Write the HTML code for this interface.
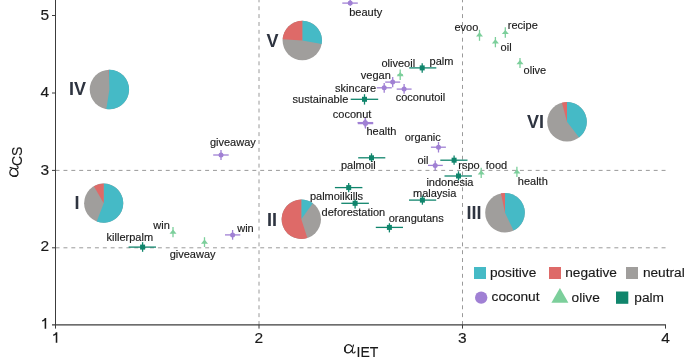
<!DOCTYPE html>
<html><head><meta charset="utf-8"><style>
html,body{margin:0;padding:0;background:#fff;width:685px;height:364px;overflow:hidden;font-family:"Liberation Sans",sans-serif;}
svg{display:block;will-change:transform;}
</style></head><body>
<svg width="685" height="364" viewBox="0 0 685 364">
<line x1="55.6" y1="170.40" x2="666" y2="170.40" stroke="#9a9a9a" stroke-width="1" stroke-dasharray="3.95 3.92"/>
<line x1="55.6" y1="247.80" x2="666" y2="247.80" stroke="#9a9a9a" stroke-width="1" stroke-dasharray="3.95 3.92"/>
<line x1="259.00" y1="325" x2="259.00" y2="0" stroke="#9a9a9a" stroke-width="1" stroke-dasharray="3.95 3.92"/>
<line x1="462.50" y1="325" x2="462.50" y2="0" stroke="#9a9a9a" stroke-width="1" stroke-dasharray="3.95 3.92"/>
<circle cx="109.4" cy="89.5" r="19.7" fill="#a09e9c"/><path d="M109.4,89.5 L108.58,69.82 A19.7,19.7 0 0 1 108.92,69.81 Z" fill="#de6a68"/><path d="M109.4,89.5 L108.92,69.81 A19.7,19.7 0 1 1 106.32,108.96 Z" fill="#45bac6"/>
<circle cx="302.3" cy="40.5" r="19.7" fill="#a09e9c"/><path d="M302.3,40.5 L302.30,20.80 A19.7,19.7 0 0 1 321.66,44.12 Z" fill="#45bac6"/><path d="M302.3,40.5 L282.63,39.33 A19.7,19.7 0 0 1 302.30,20.80 Z" fill="#de6a68"/>
<circle cx="103.7" cy="203.2" r="19.6" fill="#a09e9c"/><path d="M103.7,203.2 L103.70,183.60 A19.6,19.6 0 1 1 96.71,221.51 Z" fill="#45bac6"/><path d="M103.7,203.2 L93.87,186.24 A19.6,19.6 0 0 1 103.70,183.60 Z" fill="#de6a68"/>
<circle cx="301.3" cy="219.3" r="19.7" fill="#a09e9c"/><path d="M301.3,219.3 L301.30,199.60 A19.7,19.7 0 0 1 312.77,203.28 Z" fill="#45bac6"/><path d="M301.3,219.3 L307.35,238.05 A19.7,19.7 0 1 1 301.30,199.60 Z" fill="#de6a68"/>
<circle cx="505" cy="212.7" r="19.8" fill="#a09e9c"/><path d="M505,212.7 L505.00,192.90 A19.8,19.8 0 0 1 513.52,230.57 Z" fill="#45bac6"/><path d="M505,212.7 L500.88,193.33 A19.8,19.8 0 0 1 505.00,192.90 Z" fill="#de6a68"/>
<circle cx="567" cy="121.8" r="19.8" fill="#a09e9c"/><path d="M567,121.8 L567.00,102.00 A19.8,19.8 0 0 1 579.08,137.49 Z" fill="#45bac6"/><path d="M567,121.8 L561.88,102.67 A19.8,19.8 0 0 1 567.00,102.00 Z" fill="#de6a68"/>
<text x="69" y="95" font-family="Liberation Sans" font-weight="bold" font-size="18" fill="#2e3440">IV</text>
<text x="266.5" y="46.6" font-family="Liberation Sans" font-weight="bold" font-size="18" fill="#2e3440">V</text>
<text x="74.5" y="208.7" font-family="Liberation Sans" font-weight="bold" font-size="18" fill="#2e3440">I</text>
<text x="267" y="225.5" font-family="Liberation Sans" font-weight="bold" font-size="18" fill="#2e3440">II</text>
<text x="466.5" y="218.8" font-family="Liberation Sans" font-weight="bold" font-size="18" fill="#2e3440">III</text>
<text x="527.0" y="127.6" font-family="Liberation Sans" font-weight="bold" font-size="18" fill="#2e3440">VI</text>
<line x1="342.3" y1="3.1" x2="357.8" y2="3.1" stroke="#a080d4" stroke-width="1.3"/><line x1="350.2" y1="-2" x2="350.2" y2="5.8" stroke="#a080d4" stroke-width="1.3"/><circle cx="350.2" cy="3.1" r="2.5" fill="#a080d4"/>
<line x1="385.2" y1="82.1" x2="400.2" y2="82.1" stroke="#a080d4" stroke-width="1.3"/><line x1="392.7" y1="77" x2="392.7" y2="87.3" stroke="#a080d4" stroke-width="1.3"/><circle cx="392.7" cy="82.1" r="2.5" fill="#a080d4"/>
<line x1="376.8" y1="87.8" x2="391.8" y2="87.8" stroke="#a080d4" stroke-width="1.3"/><line x1="384.2" y1="83.1" x2="384.2" y2="92.8" stroke="#a080d4" stroke-width="1.3"/><circle cx="384.2" cy="87.8" r="2.5" fill="#a080d4"/>
<line x1="396.7" y1="89.1" x2="411.6" y2="89.1" stroke="#a080d4" stroke-width="1.3"/><line x1="404.1" y1="84" x2="404.1" y2="93.8" stroke="#a080d4" stroke-width="1.3"/><circle cx="404.1" cy="89.1" r="2.5" fill="#a080d4"/>
<line x1="357.5" y1="122.6" x2="373.2" y2="122.6" stroke="#a080d4" stroke-width="1.3"/><line x1="365.2" y1="118" x2="365.2" y2="127.4" stroke="#a080d4" stroke-width="1.3"/><circle cx="365.2" cy="122.6" r="2.5" fill="#a080d4"/>
<line x1="357.8" y1="123.6" x2="373.2" y2="123.6" stroke="#a080d4" stroke-width="1.3"/><line x1="365.5" y1="118.5" x2="365.5" y2="128.6" stroke="#a080d4" stroke-width="1.3"/><circle cx="365.5" cy="123.6" r="2.5" fill="#a080d4"/>
<line x1="430.9" y1="147.2" x2="445.9" y2="147.2" stroke="#a080d4" stroke-width="1.3"/><line x1="438.5" y1="142" x2="438.5" y2="152.5" stroke="#a080d4" stroke-width="1.3"/><circle cx="438.5" cy="147.2" r="2.5" fill="#a080d4"/>
<line x1="428" y1="165.4" x2="442.8" y2="165.4" stroke="#a080d4" stroke-width="1.3"/><line x1="435.2" y1="160.5" x2="435.2" y2="170.4" stroke="#a080d4" stroke-width="1.3"/><circle cx="435.2" cy="165.4" r="2.5" fill="#a080d4"/>
<line x1="213.2" y1="155" x2="228.7" y2="155" stroke="#a080d4" stroke-width="1.3"/><line x1="221" y1="149.9" x2="221" y2="160.1" stroke="#a080d4" stroke-width="1.3"/><circle cx="221" cy="155" r="2.5" fill="#a080d4"/>
<line x1="225" y1="234.9" x2="240.3" y2="234.9" stroke="#a080d4" stroke-width="1.3"/><line x1="232.6" y1="230" x2="232.6" y2="239.7" stroke="#a080d4" stroke-width="1.3"/><circle cx="232.6" cy="234.9" r="2.5" fill="#a080d4"/>
<line x1="479.5" y1="29.8" x2="479.5" y2="40.8" stroke="#7ccf9b" stroke-width="1.3"/><path d="M479.5,32.3 L483.0,36.5 L476.0,36.5 Z" fill="#7ccf9b"/>
<line x1="505.3" y1="27.3" x2="505.3" y2="37.7" stroke="#7ccf9b" stroke-width="1.3"/><path d="M505.3,29.900000000000002 L508.8,34.1 L501.8,34.1 Z" fill="#7ccf9b"/>
<line x1="495.4" y1="37" x2="495.4" y2="47.3" stroke="#7ccf9b" stroke-width="1.3"/><path d="M495.4,39.3 L498.9,43.5 L491.9,43.5 Z" fill="#7ccf9b"/>
<line x1="520" y1="58" x2="520" y2="68" stroke="#7ccf9b" stroke-width="1.3"/><path d="M520,60.0 L523.5,64.2 L516.5,64.2 Z" fill="#7ccf9b"/>
<line x1="397.5" y1="74.8" x2="403" y2="74.8" stroke="#7ccf9b" stroke-width="1.3"/><line x1="400.2" y1="69.4" x2="400.2" y2="80.0" stroke="#7ccf9b" stroke-width="1.3"/><path d="M400.2,72.1 L403.7,76.3 L396.7,76.3 Z" fill="#7ccf9b"/>
<line x1="481.2" y1="167.7" x2="481.2" y2="177.9" stroke="#7ccf9b" stroke-width="1.3"/><path d="M481.2,170.3 L484.7,174.5 L477.7,174.5 Z" fill="#7ccf9b"/>
<line x1="516.9" y1="166.8" x2="516.9" y2="177" stroke="#7ccf9b" stroke-width="1.3"/><path d="M516.9,169.3 L520.4,173.5 L513.4,173.5 Z" fill="#7ccf9b"/>
<line x1="173" y1="227" x2="173" y2="237.3" stroke="#7ccf9b" stroke-width="1.3"/><path d="M173,229.60000000000002 L176.5,233.8 L169.5,233.8 Z" fill="#7ccf9b"/>
<line x1="204.5" y1="237.2" x2="204.5" y2="247" stroke="#7ccf9b" stroke-width="1.3"/><path d="M204.5,239.5 L208.0,243.7 L201.0,243.7 Z" fill="#7ccf9b"/>
<line x1="409.2" y1="67.9" x2="436.3" y2="67.9" stroke="#10856c" stroke-width="1.3"/><line x1="422.2" y1="63.3" x2="422.2" y2="72.7" stroke="#10856c" stroke-width="1.3"/><rect x="419.7" y="65.4" width="5" height="5" fill="#10856c"/>
<line x1="350.7" y1="99.3" x2="378.2" y2="99.3" stroke="#10856c" stroke-width="1.3"/><line x1="364.5" y1="94.2" x2="364.5" y2="104.6" stroke="#10856c" stroke-width="1.3"/><rect x="362.0" y="96.8" width="5" height="5" fill="#10856c"/>
<line x1="358.2" y1="157.8" x2="385.3" y2="157.8" stroke="#10856c" stroke-width="1.3"/><line x1="371.5" y1="153.3" x2="371.5" y2="162" stroke="#10856c" stroke-width="1.3"/><rect x="369.0" y="155.3" width="5" height="5" fill="#10856c"/>
<line x1="440.3" y1="160.2" x2="467.5" y2="160.2" stroke="#10856c" stroke-width="1.3"/><line x1="454.1" y1="155.4" x2="454.1" y2="164.7" stroke="#10856c" stroke-width="1.3"/><rect x="451.6" y="157.7" width="5" height="5" fill="#10856c"/>
<line x1="444.5" y1="176" x2="471.9" y2="176" stroke="#10856c" stroke-width="1.3"/><line x1="458.5" y1="171.3" x2="458.5" y2="180.5" stroke="#10856c" stroke-width="1.3"/><rect x="456.0" y="173.5" width="5" height="5" fill="#10856c"/>
<line x1="334.9" y1="187.6" x2="362.4" y2="187.6" stroke="#10856c" stroke-width="1.3"/><line x1="348.7" y1="182.9" x2="348.7" y2="192.3" stroke="#10856c" stroke-width="1.3"/><rect x="346.2" y="185.1" width="5" height="5" fill="#10856c"/>
<line x1="341.3" y1="203.3" x2="368.9" y2="203.3" stroke="#10856c" stroke-width="1.3"/><line x1="355.1" y1="199.3" x2="355.1" y2="208.5" stroke="#10856c" stroke-width="1.3"/><rect x="352.6" y="200.8" width="5" height="5" fill="#10856c"/>
<line x1="409" y1="200.1" x2="436.2" y2="200.1" stroke="#10856c" stroke-width="1.3"/><line x1="422.4" y1="195.7" x2="422.4" y2="204.7" stroke="#10856c" stroke-width="1.3"/><rect x="419.9" y="197.6" width="5" height="5" fill="#10856c"/>
<line x1="375.8" y1="227.4" x2="403" y2="227.4" stroke="#10856c" stroke-width="1.3"/><line x1="389.4" y1="223.2" x2="389.4" y2="232.4" stroke="#10856c" stroke-width="1.3"/><rect x="386.9" y="224.9" width="5" height="5" fill="#10856c"/>
<line x1="128.6" y1="247.1" x2="156" y2="247.1" stroke="#10856c" stroke-width="1.3"/><line x1="142.6" y1="242.2" x2="142.6" y2="251.8" stroke="#10856c" stroke-width="1.3"/><rect x="140.1" y="244.6" width="5" height="5" fill="#10856c"/>
<text x="349.2" y="15.8" font-family="Liberation Sans" font-size="11" fill="#1a1a1a" stroke="#1a1a1a" stroke-width="0.15">beauty</text>
<text x="360.8" y="78.8" font-family="Liberation Sans" font-size="11" fill="#1a1a1a" stroke="#1a1a1a" stroke-width="0.15">vegan</text>
<text x="335.1" y="91.6" font-family="Liberation Sans" font-size="11" fill="#1a1a1a" stroke="#1a1a1a" stroke-width="0.15">skincare</text>
<text x="292.6" y="102.8" font-family="Liberation Sans" font-size="11" fill="#1a1a1a" stroke="#1a1a1a" stroke-width="0.15">sustainable</text>
<text x="381.5" y="66.8" font-family="Liberation Sans" font-size="11" fill="#1a1a1a" stroke="#1a1a1a" stroke-width="0.15">oliveoil</text>
<text x="429.6" y="64.8" font-family="Liberation Sans" font-size="11" fill="#1a1a1a" stroke="#1a1a1a" stroke-width="0.15">palm</text>
<text x="395.7" y="100.6" font-family="Liberation Sans" font-size="11" fill="#1a1a1a" stroke="#1a1a1a" stroke-width="0.15">coconutoil</text>
<text x="332.8" y="118.4" font-family="Liberation Sans" font-size="11" fill="#1a1a1a" stroke="#1a1a1a" stroke-width="0.15">coconut</text>
<text x="366.5" y="135" font-family="Liberation Sans" font-size="11" fill="#1a1a1a" stroke="#1a1a1a" stroke-width="0.15">health</text>
<text x="404.7" y="141" font-family="Liberation Sans" font-size="11" fill="#1a1a1a" stroke="#1a1a1a" stroke-width="0.15">organic</text>
<text x="417.4" y="164.1" font-family="Liberation Sans" font-size="11" fill="#1a1a1a" stroke="#1a1a1a" stroke-width="0.15">oil</text>
<text x="458.3" y="168.9" font-family="Liberation Sans" font-size="11" fill="#1a1a1a" stroke="#1a1a1a" stroke-width="0.15">rspo</text>
<text x="426.4" y="185.5" font-family="Liberation Sans" font-size="11" fill="#1a1a1a" stroke="#1a1a1a" stroke-width="0.15">indonesia</text>
<text x="454.4" y="30.8" font-family="Liberation Sans" font-size="11" fill="#1a1a1a" stroke="#1a1a1a" stroke-width="0.15">evoo</text>
<text x="507.8" y="28.7" font-family="Liberation Sans" font-size="11" fill="#1a1a1a" stroke="#1a1a1a" stroke-width="0.15">recipe</text>
<text x="500.6" y="50.8" font-family="Liberation Sans" font-size="11" fill="#1a1a1a" stroke="#1a1a1a" stroke-width="0.15">oil</text>
<text x="523.6" y="74" font-family="Liberation Sans" font-size="11" fill="#1a1a1a" stroke="#1a1a1a" stroke-width="0.15">olive</text>
<text x="485.8" y="169.0" font-family="Liberation Sans" font-size="11" fill="#1a1a1a" stroke="#1a1a1a" stroke-width="0.15">food</text>
<text x="517.8" y="185.4" font-family="Liberation Sans" font-size="11" fill="#1a1a1a" stroke="#1a1a1a" stroke-width="0.15">health</text>
<text x="209.9" y="145.8" font-family="Liberation Sans" font-size="11" fill="#1a1a1a" stroke="#1a1a1a" stroke-width="0.15">giveaway</text>
<text x="106.6" y="241" font-family="Liberation Sans" font-size="11" fill="#1a1a1a" stroke="#1a1a1a" stroke-width="0.15">killerpalm</text>
<text x="153.3" y="228.8" font-family="Liberation Sans" font-size="11" fill="#1a1a1a" stroke="#1a1a1a" stroke-width="0.15">win</text>
<text x="169.7" y="258.3" font-family="Liberation Sans" font-size="11" fill="#1a1a1a" stroke="#1a1a1a" stroke-width="0.15">giveaway</text>
<text x="237.2" y="232" font-family="Liberation Sans" font-size="11" fill="#1a1a1a" stroke="#1a1a1a" stroke-width="0.15">win</text>
<text x="340.9" y="168.8" font-family="Liberation Sans" font-size="11" fill="#1a1a1a" stroke="#1a1a1a" stroke-width="0.15">palmoil</text>
<text x="309.9" y="199.6" font-family="Liberation Sans" font-size="11" fill="#1a1a1a" stroke="#1a1a1a" stroke-width="0.15">palmoilkills</text>
<text x="321.6" y="216.2" font-family="Liberation Sans" font-size="11" fill="#1a1a1a" stroke="#1a1a1a" stroke-width="0.15">deforestation</text>
<text x="413.0" y="197.4" font-family="Liberation Sans" font-size="11" fill="#1a1a1a" stroke="#1a1a1a" stroke-width="0.15">malaysia</text>
<text x="388.7" y="222.4" font-family="Liberation Sans" font-size="11" fill="#1a1a1a" stroke="#1a1a1a" stroke-width="0.15">orangutans</text>
<line x1="55.5" y1="0" x2="55.5" y2="328.6" stroke="#3c3c3c" stroke-width="1"/>
<line x1="52" y1="324.9" x2="666" y2="324.9" stroke="#3c3c3c" stroke-width="1.15"/>
<line x1="52" y1="15.50" x2="55.5" y2="15.50" stroke="#3c3c3c" stroke-width="1"/>
<line x1="52" y1="93.00" x2="55.5" y2="93.00" stroke="#3c3c3c" stroke-width="1"/>
<line x1="52" y1="170.40" x2="55.5" y2="170.40" stroke="#3c3c3c" stroke-width="1"/>
<line x1="52" y1="247.80" x2="55.5" y2="247.80" stroke="#3c3c3c" stroke-width="1"/>
<line x1="259.00" y1="325" x2="259.00" y2="328.6" stroke="#3c3c3c" stroke-width="1"/>
<line x1="462.50" y1="325" x2="462.50" y2="328.6" stroke="#3c3c3c" stroke-width="1"/>
<line x1="665.50" y1="325" x2="665.50" y2="328.6" stroke="#3c3c3c" stroke-width="1"/>
<text x="49.0" y="19.8" text-anchor="end" font-family="Liberation Sans" font-size="15.5" fill="#1a1a1a" stroke="#1a1a1a" stroke-width="0.15">5</text>
<text x="49.0" y="96.8" text-anchor="end" font-family="Liberation Sans" font-size="15.5" fill="#1a1a1a" stroke="#1a1a1a" stroke-width="0.15">4</text>
<text x="49.0" y="174.7" text-anchor="end" font-family="Liberation Sans" font-size="15.5" fill="#1a1a1a" stroke="#1a1a1a" stroke-width="0.15">3</text>
<text x="49.0" y="251.3" text-anchor="end" font-family="Liberation Sans" font-size="15.5" fill="#1a1a1a" stroke="#1a1a1a" stroke-width="0.15">2</text>
<text x="258.8" y="343.3" text-anchor="middle" font-family="Liberation Sans" font-size="15.5" fill="#1a1a1a" stroke="#1a1a1a" stroke-width="0.15">2</text>
<text x="462.2" y="343.3" text-anchor="middle" font-family="Liberation Sans" font-size="15.5" fill="#1a1a1a" stroke="#1a1a1a" stroke-width="0.15">3</text>
<text x="665.5" y="343.3" text-anchor="middle" font-family="Liberation Sans" font-size="15.5" fill="#1a1a1a" stroke="#1a1a1a" stroke-width="0.15">4</text>
<path d="M46.2,318.0 L46.2,328.7 L44.650000000000006,328.7 L44.650000000000006,320.6 C44.0,321.2 43.0,321.5 42.0,321.6 L42.0,320.4 C43.400000000000006,320.2 44.300000000000004,319.3 44.7,318.0 Z" fill="#1a1a1a"/>
<path d="M57.3,332.2 L57.3,342.8 L55.75,342.8 L55.75,334.8 C55.099999999999994,335.4 54.099999999999994,335.7 53.099999999999994,335.8 L53.099999999999994,334.59999999999997 C54.5,334.4 55.4,333.5 55.8,332.2 Z" fill="#1a1a1a"/>
<g transform="translate(344,353.5)"><path d="M8.0,-6.6 C7.3,-8.2 6.1,-8.8 4.6,-8.8 C2.1,-8.8 0.7,-6.7 0.7,-4.4 C0.7,-1.9 2,-0.6 4.0,-0.6 C5.8,-0.6 7.1,-1.9 8.0,-3.7" fill="none" stroke="#1a1a1a" stroke-width="1.2"/><path d="M1.1,-6.5 C0.7,-5 0.7,-3.3 1.3,-1.9" fill="none" stroke="#1a1a1a" stroke-width="1.5"/><path d="M9.6,-8.9 C8.9,-7 8.3,-4.2 8.2,-2.5 C8.1,-1.1 8.6,-0.5 9.4,-0.5 C10.2,-0.5 10.9,-1.1 11.4,-2.1" fill="none" stroke="#1a1a1a" stroke-width="1.15"/></g>
<text x="356.5" y="357.4" font-family="Liberation Sans" font-size="14" fill="#1a1a1a" stroke="#1a1a1a" stroke-width="0.15">IET</text>
<g transform="translate(18.6,177) rotate(-90)"><path d="M8.0,-6.6 C7.3,-8.2 6.1,-8.8 4.6,-8.8 C2.1,-8.8 0.7,-6.7 0.7,-4.4 C0.7,-1.9 2,-0.6 4.0,-0.6 C5.8,-0.6 7.1,-1.9 8.0,-3.7" fill="none" stroke="#1a1a1a" stroke-width="1.2"/><path d="M1.1,-6.5 C0.7,-5 0.7,-3.3 1.3,-1.9" fill="none" stroke="#1a1a1a" stroke-width="1.5"/><path d="M9.6,-8.9 C8.9,-7 8.3,-4.2 8.2,-2.5 C8.1,-1.1 8.6,-0.5 9.4,-0.5 C10.2,-0.5 10.9,-1.1 11.4,-2.1" fill="none" stroke="#1a1a1a" stroke-width="1.15"/></g>
<g transform="translate(18.3,177.5) rotate(-90)"><text x="11.5" y="3.3" font-family="Liberation Sans" font-size="14" fill="#1a1a1a" stroke="#1a1a1a" stroke-width="0.15">CS</text></g>
<rect x="474" y="267" width="12" height="12" fill="#45bac6"/>
<rect x="549" y="267" width="12" height="12" fill="#de6a68"/>
<rect x="626" y="267" width="12" height="12" fill="#a09e9c"/>
<circle cx="481.2" cy="297.6" r="6.2" fill="#a080d4"/>
<path d="M559.9,288.1 L568.4,302.8 L551.4,302.8 Z" fill="#7ccf9b"/>
<rect x="616" y="291.5" width="12.3" height="12.3" fill="#10856c"/>
<text x="489.9" y="276.6" font-family="Liberation Sans" font-size="13.7" fill="#1a1a1a" stroke="#1a1a1a" stroke-width="0.15">positive</text>
<text x="565.2" y="276.6" font-family="Liberation Sans" font-size="13.7" fill="#1a1a1a" stroke="#1a1a1a" stroke-width="0.15">negative</text>
<text x="642.9" y="276.6" font-family="Liberation Sans" font-size="13.7" fill="#1a1a1a" stroke="#1a1a1a" stroke-width="0.15">neutral</text>
<text x="491.6" y="301.0" font-family="Liberation Sans" font-size="13.7" fill="#1a1a1a" stroke="#1a1a1a" stroke-width="0.15">coconut</text>
<text x="571.6" y="301.5" font-family="Liberation Sans" font-size="13.7" fill="#1a1a1a" stroke="#1a1a1a" stroke-width="0.15">olive</text>
<text x="634.3" y="301.5" font-family="Liberation Sans" font-size="13.7" fill="#1a1a1a" stroke="#1a1a1a" stroke-width="0.15">palm</text>
</svg>
</body></html>
